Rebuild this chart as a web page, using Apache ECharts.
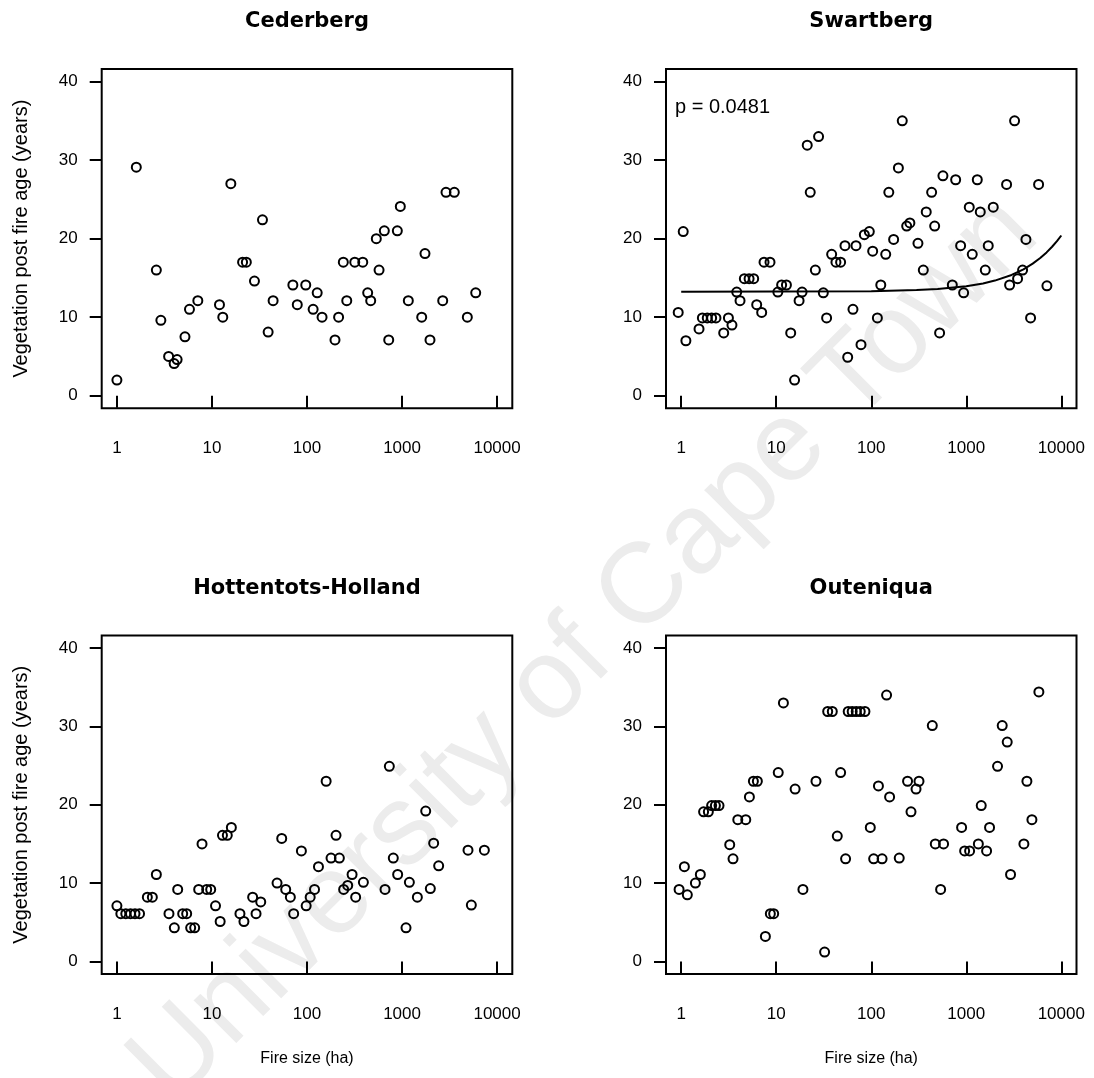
<!DOCTYPE html>
<html>
<head>
<meta charset="utf-8">
<script src="https://cdn.jsdelivr.net/npm/echarts@6/dist/echarts.min.js"></script>
<style>
  html, body { margin: 0; padding: 0; background: #ffffff; }
  #chart { width: 1094px; height: 1078px; }
</style>
</head>
<body>
<div id="chart"></div>
<script>
// Tick positions shared by all four panels
const sizeTicks = [1, 10, 100, 1000, 10000];
const ageTicks = [0, 10, 20, 30, 40];

// Cederberg: fire size (ha) and vegetation age (years)
const cederbergSize = [1, 1.6, 2.6, 2.9, 3.5, 4.0, 4.3, 5.2, 5.8, 7.1, 12, 13, 15.8, 21, 23, 28, 34, 39, 44, 71,
  79, 97, 116, 128, 144, 197, 215, 241, 262, 318, 386, 435, 468, 536, 573, 651, 724, 892, 959, 1164,
  1610, 1743, 1968, 2678, 2900, 3548, 4862, 5957];
const cederbergAge = [2.0, 29.1, 16.0, 9.6, 5.0, 4.1, 4.6, 7.5, 11.0, 12.1, 11.6, 10.0, 27.0, 17.0, 17.0, 14.6, 22.4, 8.1, 12.1, 14.1,
  11.6, 14.1, 11.0, 13.1, 10.0, 7.1, 10.0, 17.0, 12.1, 17.0, 17.0, 13.1, 12.1, 20.0, 16.0, 21.0, 7.1, 21.0, 24.1, 12.1,
  10.0, 18.1, 7.1, 12.1, 25.9, 25.9, 10.0, 13.1];

// Swartberg
const swartbergSize = [0.93, 1.05, 1.12, 1.54, 1.67, 1.88, 2.09, 2.32, 2.80, 3.14, 3.42, 3.84, 4.16, 4.62, 5.18, 5.79, 6.23, 7.03, 7.44, 8.60,
  10.4, 11.4, 12.8, 14.2, 15.6, 17.4, 18.7, 21.2, 22.8, 25.8, 27.9, 31.3, 33.9, 38.3, 42.5, 47.6, 52.9, 56.5, 64.2, 69.1,
  78, 84.6, 95.4, 103.5, 116, 126, 142, 153, 172, 193, 212, 236, 255, 310, 353, 379, 432, 465, 524, 568,
  713, 773, 872, 938, 1075, 1156, 1306, 1404, 1585, 1703, 1923, 2656, 2857, 3224, 3467, 3915, 4244, 4750, 5768, 7058];
const swartbergAge = [10.6, 20.9, 7.0, 8.5, 9.9, 9.9, 9.9, 9.9, 8.0, 9.9, 9.0, 13.2, 12.1, 14.9, 14.9, 14.9, 11.6, 10.6, 17.0, 17.0,
  13.2, 14.1, 14.1, 8.0, 2.0, 12.1, 13.2, 31.9, 25.9, 16.0, 33.0, 13.1, 9.9, 18.0, 17.0, 17.0, 19.1, 4.9, 11.0, 19.1,
  6.5, 20.5, 20.9, 18.4, 9.9, 14.1, 18.0, 25.9, 19.9, 29.0, 35.0, 21.6, 22.0, 19.4, 16.0, 23.4, 25.9, 21.6, 8.0, 28.0,
  14.1, 27.5, 19.1, 13.1, 24.0, 18.0, 27.5, 23.4, 16.0, 19.1, 24.0, 26.9, 14.1, 35.0, 14.9, 16.0, 19.9, 9.9, 26.9, 14.0];
// Fitted trend for Swartberg (fire size, predicted age)
const swartbergFitSize = [1, 100, 300, 500, 1000, 1500, 2000, 3000, 4000, 5000, 6000, 7000, 8000, 9000, 10000];
const swartbergFitAge = [13.23, 13.30, 13.45, 13.59, 13.95, 14.30, 14.66, 15.38, 16.10, 16.82, 17.53, 18.25, 18.97, 19.68, 20.40];
const swartbergP = 'p = 0.0481';

// Hottentots-Holland
const hottentotsSize = [1, 1.10, 1.24, 1.39, 1.55, 1.73, 2.09, 2.36, 2.60, 3.53, 4.02, 4.36, 4.92, 5.42, 5.97, 6.58, 7.25, 7.86, 8.80, 9.70,
  10.9, 12.2, 12.9, 14.5, 16.0, 19.7, 21.7, 26.8, 29.1, 32.6, 48.4, 54.2, 59.7, 66.8, 72.4, 87.3, 98, 108, 120, 132,
  159, 179, 202, 219, 243, 268, 298, 325, 392, 662, 735, 809, 899, 1101, 1194, 1449, 1774, 1984, 2151, 2428,
  4943, 5358, 7347];
const hottentotsAge = [7.1, 6.1, 6.1, 6.1, 6.1, 6.1, 8.2, 8.2, 11.1, 6.1, 4.3, 9.2, 6.1, 6.1, 4.3, 4.3, 9.2, 15.0, 9.2, 9.2,
  7.1, 5.1, 16.1, 16.1, 17.1, 6.1, 5.1, 8.2, 6.1, 7.6, 10.0, 15.7, 9.2, 8.2, 6.1, 14.1, 7.1, 8.2, 9.2, 12.1,
  23.0, 13.2, 16.1, 13.2, 9.2, 9.7, 11.1, 8.2, 10.1, 9.2, 24.9, 13.2, 11.1, 4.3, 10.1, 8.2, 19.2, 9.3, 15.1, 12.2,
  14.2, 7.2, 14.2];

// Outeniqua
const outeniquaSize = [0.95, 1.08, 1.16, 1.41, 1.59, 1.72, 1.93, 2.09, 2.29, 2.50, 3.24, 3.51, 3.94, 4.78, 5.22, 5.75, 6.33, 7.69, 8.67, 9.40,
  10.5, 11.9, 15.8, 19.1, 26.2, 32.3, 34.8, 38.9, 43.9, 47.6, 53.7, 57.2, 63.0, 69.5, 76.6, 85.8, 97.7, 106, 119, 130,
  145, 156, 197, 241, 262, 296, 318, 439, 472, 537, 577, 893, 961, 1084, 1340, 1437, 1636, 1758, 2133, 2389,
  2697, 2924, 4040, 4345, 4907, 5808];
const outeniquaAge = [9.2, 12.1, 8.5, 10.0, 11.1, 19.1, 19.1, 19.9, 19.9, 19.9, 14.9, 13.1, 18.1, 18.1, 21.0, 23.0, 23.0, 3.2, 6.1, 6.1,
  24.1, 33.0, 22.0, 9.2, 23.0, 1.2, 31.9, 31.9, 16.0, 24.1, 13.1, 31.9, 31.9, 31.9, 31.9, 31.9, 17.1, 13.1, 22.4, 13.1,
  34.0, 21.0, 13.2, 23.0, 19.1, 22.0, 23.0, 30.1, 15.0, 9.2, 15.0, 17.1, 14.1, 14.1, 15.0, 19.9, 14.1, 17.1, 24.9, 30.1,
  28.0, 11.1, 15.0, 23.0, 18.1, 34.4];

const panelNames = ['Cederberg', 'Swartberg', 'Hottentots-Holland', 'Outeniqua'];
const panelSizes = [cederbergSize, swartbergSize, hottentotsSize, outeniquaSize];
const panelAges = [cederbergAge, swartbergAge, hottentotsAge, outeniquaAge];

const xTitle = 'Fire size (ha)';
const yTitle = 'Vegetation post fire age (years)';

// Plot boxes of the 2 x 2 layout
const boxes = [
  { left: 101.7, top: 69, width: 410.6, height: 339.3 },
  { left: 666, top: 69, width: 410.5, height: 339.3 },
  { left: 101.7, top: 635.5, width: 410.6, height: 338.5 },
  { left: 666, top: 635.5, width: 410.5, height: 338.5 }
];

const ink = '#000000';
const sans = 'Liberation Sans, Arial, sans-serif';
const tickFont = { color: ink, fontSize: 17, fontFamily: sans };

const pairs = (xs, ys) => xs.map((x, i) => [x, ys[i]]);

const grids = boxes.map(b => ({
  left: b.left, top: b.top, width: b.width, height: b.height,
  show: true, borderColor: ink, borderWidth: 2, backgroundColor: 'transparent',
  containLabel: false, outerBoundsMode: 'none'
}));

const xAxes = boxes.map((b, i) => ({
  type: 'log', logBase: 10, gridIndex: i,
  min: 0.6918, max: 14454,
  axisLine: { show: false },
  axisTick: { show: true, length: 12, customValues: sizeTicks, lineStyle: { color: ink, width: 2 } },
  axisLabel: { show: true, customValues: sizeTicks, margin: 32,
    formatter: v => String(Math.round(v)), ...tickFont },
  splitLine: { show: false },
  name: i >= 2 ? xTitle : '',
  nameLocation: 'middle', nameGap: 77,
  nameTextStyle: { color: ink, fontSize: 16, fontFamily: sans }
}));

const yAxes = boxes.map((b, i) => ({
  type: 'value', gridIndex: i,
  min: -1.6, max: 41.6,
  axisLine: { show: false },
  axisTick: { show: true, length: 12, customValues: ageTicks, lineStyle: { color: ink, width: 2 } },
  axisLabel: { show: true, customValues: ageTicks, margin: 24, ...tickFont },
  splitLine: { show: false },
  name: i % 2 === 0 ? yTitle : '',
  nameLocation: 'middle', nameGap: 70, nameRotate: 90,
  nameTextStyle: { color: ink, fontSize: 20, fontFamily: sans }
}));

const series = panelSizes.map((xs, i) => ({
  type: 'scatter', xAxisIndex: i, yAxisIndex: i,
  data: pairs(xs, panelAges[i]),
  symbol: 'circle', symbolSize: 9,
  itemStyle: { color: 'rgba(0,0,0,0)', borderColor: ink, borderWidth: 2, opacity: 1 },
  silent: true, z: 3
}));
series.push({
  type: 'line', xAxisIndex: 1, yAxisIndex: 1,
  data: pairs(swartbergFitSize, swartbergFitAge),
  showSymbol: false, symbol: 'none', smooth: false,
  lineStyle: { color: ink, width: 2 },
  silent: true, z: 2
});

const titleFont = { fontSize: 21, fontWeight: 'bold', fontFamily: 'DejaVu Sans, sans-serif', fill: ink };
const titles = boxes.map((b, i) => ({
  type: 'text', x: b.left + b.width / 2, y: b.top - 47, z: 10,
  style: { text: panelNames[i], align: 'center', verticalAlign: 'middle', ...titleFont }
}));

const graphics = [
  // faint diagonal watermark across the page
  {
    type: 'text', x: 585, y: 650, rotation: Math.PI / 4, z: -10, silent: true,
    style: { text: 'University of Cape Town', align: 'center', verticalAlign: 'middle',
      fontSize: 114, fontFamily: sans, fill: '#ececec' }
  },
  ...titles,
  {
    type: 'text', x: boxes[1].left + 9, y: 107, z: 10,
    style: { text: swartbergP, align: 'left', verticalAlign: 'middle',
      fontSize: 20, fontFamily: sans, fill: ink }
  }
];

const chart = echarts.init(document.getElementById('chart'), null, { renderer: 'canvas' });
chart.setOption({
  animation: false,
  backgroundColor: '#ffffff',
  grid: grids,
  xAxis: xAxes,
  yAxis: yAxes,
  series: series,
  graphic: { elements: graphics }
});
</script>
</body>
</html>
